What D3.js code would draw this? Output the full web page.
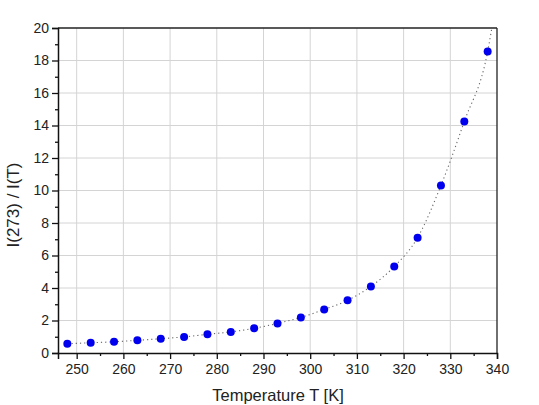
<!DOCTYPE html>
<html><head><meta charset="utf-8">
<script src="https://cdn.jsdelivr.net/npm/d3@7"></script>
<style>body{margin:0;background:#fff}svg{display:block}</style>
</head><body>
<script>
const temps = [248,253,258,263,268,273,278,283,288,293,298,303,308,313,318,323,328,333,338];
const ratios = [0.57,0.63,0.69,0.78,0.88,0.99,1.15,1.30,1.52,1.82,2.19,2.68,3.24,4.10,5.32,7.10,10.31,14.25,18.56];
const fitT = [248,253,258,263,268,273,278,283,288,293,298,303,308,313,318,323,328,333,338,338.9];
const fitV = [0.57,0.63,0.69,0.78,0.88,0.99,1.15,1.30,1.52,1.82,2.19,2.68,3.24,4.10,5.32,7.10,10.31,14.25,18.56,20];
const xTicks = [250,260,270,280,290,300,310,320,330,340];
const yTicks = [0,2,4,6,8,10,12,14,16,18,20];

const W=539,H=405;
const m={l:58,r:42,t:28,b:52};
const svg=d3.select("body").append("svg").attr("width",W).attr("height",H);
const x=d3.scaleLinear().domain([246,340]).range([m.l,W-m.r]);
const y=d3.scaleLinear().domain([0,20]).range([H-m.b,m.t]);
const font="Liberation Sans, Arial, sans-serif";

// grid
const g=svg.append("g");
g.selectAll(".vg").data(xTicks.slice(0,-1)).join("line")
 .attr("x1",d=>x(d)).attr("x2",d=>x(d)).attr("y1",y(0)).attr("y2",y(20))
 .attr("stroke","#d4d4d4").attr("stroke-width",1);
g.selectAll(".hg").data(yTicks.slice(1,-1)).join("line")
 .attr("x1",x(246)).attr("x2",x(340)).attr("y1",d=>y(d)).attr("y2",d=>y(d))
 .attr("stroke","#d4d4d4").attr("stroke-width",1);

// frame top/right
svg.append("line").attr("x1",x(246)).attr("x2",x(340)).attr("y1",y(20)).attr("y2",y(20)).attr("stroke","#222").attr("stroke-width",1.3);
svg.append("line").attr("x1",x(340)).attr("x2",x(340)).attr("y1",y(20)).attr("y2",y(0)).attr("stroke","#222").attr("stroke-width",1.3);

// axes
const xa=svg.append("g").attr("transform",`translate(0,${y(0)})`)
 .call(d3.axisBottom(x).tickValues(xTicks).tickSize(6).tickPadding(5).tickFormat(d3.format("d")));
const xm=svg.append("g").attr("transform",`translate(0,${y(0)})`)
 .call(d3.axisBottom(x).tickValues(d3.range(255,340,10)).tickSize(3).tickFormat(""));
const ya=svg.append("g").attr("transform",`translate(${x(246)},0)`)
 .call(d3.axisLeft(y).tickValues(yTicks).tickSize(6).tickPadding(3).tickFormat(d3.format("d")));
const ym=svg.append("g").attr("transform",`translate(${x(246)},0)`)
 .call(d3.axisLeft(y).tickValues(d3.range(1,20,2)).tickSize(3).tickFormat(""));
[xa,xm,ya,ym].forEach(a=>{
 a.select(".domain").attr("stroke","#111").attr("stroke-width",1.5);
 a.selectAll(".tick line").attr("stroke","#111").attr("stroke-width",1.3);
 a.selectAll("text").attr("font-family",font).attr("font-size",14).attr("fill","#222");
});
xm.select(".domain").remove(); ym.select(".domain").remove();

// fit line
const line=d3.line().x((d,i)=>x(fitT[i])).y(d=>y(d)).curve(d3.curveMonotoneX);
svg.append("path").attr("d",line(fitV)).attr("fill","none")
 .attr("stroke","#666").attr("stroke-width",1.1).attr("stroke-dasharray","1.2,3");

// points
svg.selectAll(".pt").data(ratios).join("circle")
 .attr("cx",(d,i)=>x(temps[i])).attr("cy",d=>y(d)).attr("r",4).attr("fill","#0000ee");

// labels
svg.append("text").attr("x",278).attr("y",401).attr("text-anchor","middle")
 .attr("font-family",font).attr("font-size",16.5).attr("fill","#222").text("Temperature T [K]");
svg.append("text").attr("transform",`translate(19,205) rotate(-90)`).attr("text-anchor","middle")
 .attr("font-family",font).attr("font-size",17).attr("fill","#222").text("I(273) / I(T)");
</script>
</body></html>
